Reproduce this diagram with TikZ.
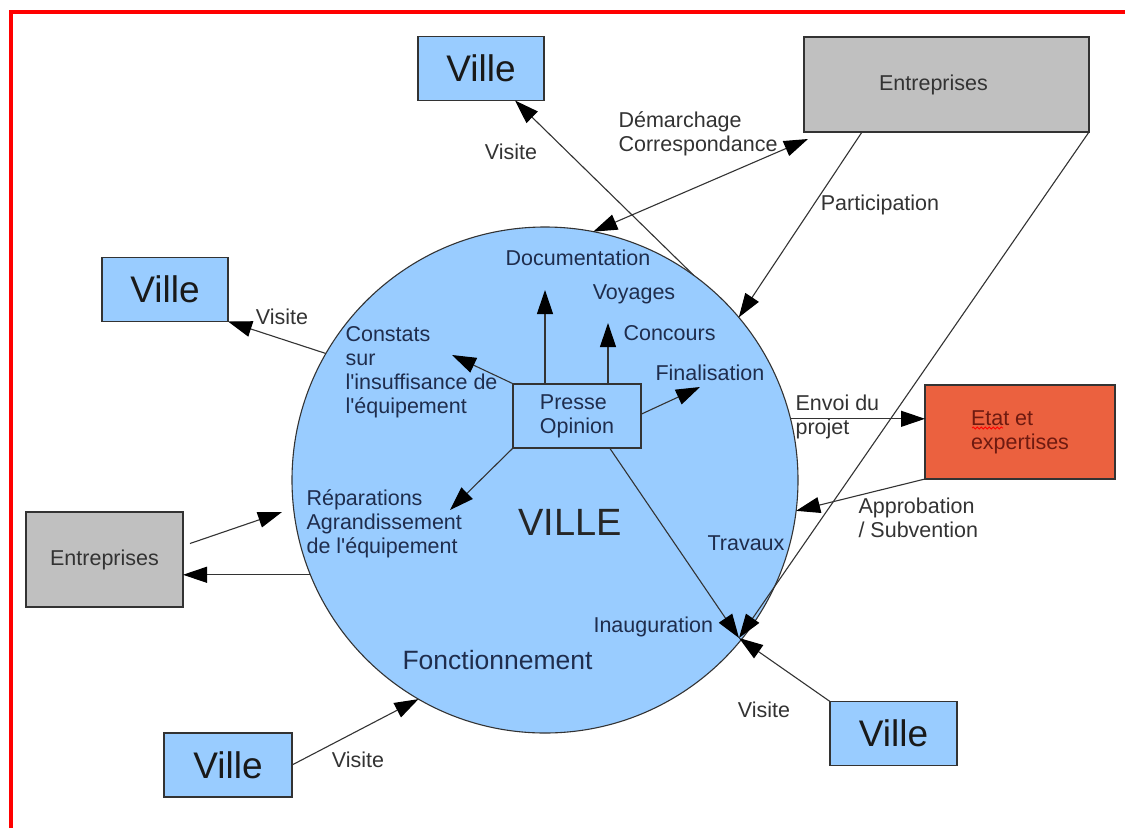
\documentclass[tikz,border=0pt]{standalone}
\usepackage{fontspec}
\setmainfont{Liberation Sans}[Ligatures=TeXOff]
\usetikzlibrary{positioning,arrows.meta,calc,decorations.pathmorphing,shapes}
\definecolor{villeblue}{HTML}{99CCFF}
\definecolor{entgray}{HTML}{C0C0C0}
\definecolor{etatred}{HTML}{EB613F}
\definecolor{etatink}{HTML}{6E1A10}
\definecolor{inktxt}{HTML}{1F2D4D}
\definecolor{edgegray}{HTML}{333333}
\tikzset{
  vbox/.style={draw=edgegray, fill=villeblue, inner sep=0pt, outer sep=0pt,
    minimum width=126pt, minimum height=64pt, text=black!90,
    font=\fontsize{37}{40}\selectfont},
  gbox/.style={draw=edgegray, fill=entgray, inner sep=0pt, outer sep=0pt,
    text=edgegray, font=\fontsize{21.5}{24}\selectfont},
  lbl/.style={inner sep=0pt, text=inktxt, font=\fontsize{21.5}{24}\selectfont},
  olbl/.style={lbl, text=edgegray}
}

\begin{document}
\begin{tikzpicture}[x=1pt, y=-1pt, line width=1.1pt, draw=edgegray,
  >={Triangle[length=24pt,width=16pt,color=black]}]
\useasboundingbox (0,0) rectangle (1125,828);
\fill[white] (0,0) rectangle (1125,828);
\draw[red, line width=4pt] (11,828) -- (11,12) -- (1125,12);

% the city
\node[circle, draw=edgegray, fill=villeblue, minimum size=506pt, inner sep=0pt, outer sep=0pt] (ville) at (545,480) {};
\node[lbl, text=black!85, font=\fontsize{38}{40}\selectfont] (villetxt) at (570,522) {VILLE};
\node[lbl, font=\fontsize{26.5}{30}\selectfont, anchor=west] (fonct) at (402,660) {Fonctionnement};
\node[lbl] (docu) at (578,258) {Documentation};
\node[lbl] (voy) at (634,294) {Voyages};
\node[lbl, anchor=west] (conc) at (623,333) {Concours};
\node[lbl, anchor=west] (final) at (655,373) {Finalisation};
\node[lbl, anchor=west, align=left] (const) at (345,372) {Constats\\sur\\l'insuffisance de\\l'équipement};
\node[lbl, anchor=west, align=left] (repar) at (306,524) {Réparations\\Agrandissement\\de l'équipement};
\node[lbl, anchor=west] (inaug) at (593,627) {Inauguration};
\node[lbl, anchor=west] (trav) at (707,543) {Travaux};
\node[lbl, draw=edgegray, fill=villeblue, minimum width=128pt, minimum height=64pt, align=left] (pr) at (577,416) {Presse\\Opinion};

% boxes round it
\node[vbox] (vT) at (481,68.5) {Ville};
\node[vbox] (vL) at (165,289.5) {Ville};
\node[vbox, minimum width=128pt] (vB) at (228,765) {Ville};
\node[vbox, minimum width=127pt] (vBR) at (893.5,733.5) {Ville};
\node[gbox, minimum width=285pt, minimum height=95pt] (eT) at (946.5,84.5) {Entreprises\hspace*{26pt}};
\node[gbox, minimum width=157pt, minimum height=95pt] (eL) at (104.5,559.5) {Entreprises};
\node[gbox, fill=etatred, text=etatink, align=left, minimum width=190pt, minimum height=94pt] (et) at (1020,432) {Etat et\\expertises};
\draw[red, line width=0.8pt, decorate, decoration={snake, amplitude=1pt, segment length=4pt}] (972,428) -- (1003,428);

% labels outside
\node[olbl] (visT) at (511,152) {Visite};
\node[olbl] (visL) at (282,317) {Visite};
\node[olbl] (visB) at (358,760) {Visite};
\node[olbl] (visBR) at (764,710) {Visite};
\node[olbl, anchor=west, align=left] (demar) at (618,134) {Démarchage\\Correspondance};
\node[olbl] (partic) at (880,205) {Participation};
\node[olbl, anchor=west, align=left] (envoi) at (795,417) {Envoi du\\projet};
\node[olbl, anchor=west, align=left] (approb) at (858,518) {Approbation\\/ Subvention};

% arrow ends
\coordinate (conv) at (739,638);
\coordinate (tDoc) at (545,290);
\coordinate (tConc) at (608,323);
\coordinate (tConst) at (452,355);
\coordinate (tFin) at (700,387);
\coordinate (tRep) at (450,510);
\coordinate (tEin) at (282,512);

\path[->]
(pr.north west) edge (tConst)
(pr.north -| tDoc) edge (tDoc)
(pr.north -| tConc) edge (tConc)
([yshift=2pt]pr.east) edge (tFin)
(pr.south west) edge (tRep)
([xshift=33pt]pr.south) edge (conv);
\path[->]
(ville.54) edge ([xshift=34pt]vT.south)
(ville.79) edge[<->] ([xshift=4pt,yshift=-7pt]eT.south west)
([xshift=-84.5pt]eT.south) edge (ville.40)
(eT.south east) edge (conv)
(vBR.north west) edge (conv)
(ville.14) edge (ville.14 -| et.west)
(et.south west) edge (ville.-7);
\path[->]
(ville.150) edge (vL.south east)
([xshift=7pt,yshift=16pt]eL.east) edge (tEin)
(ville.202) edge (ville.202 -| eL.east)
(vB.east) edge (ville.240);
\end{tikzpicture}
\end{document}
